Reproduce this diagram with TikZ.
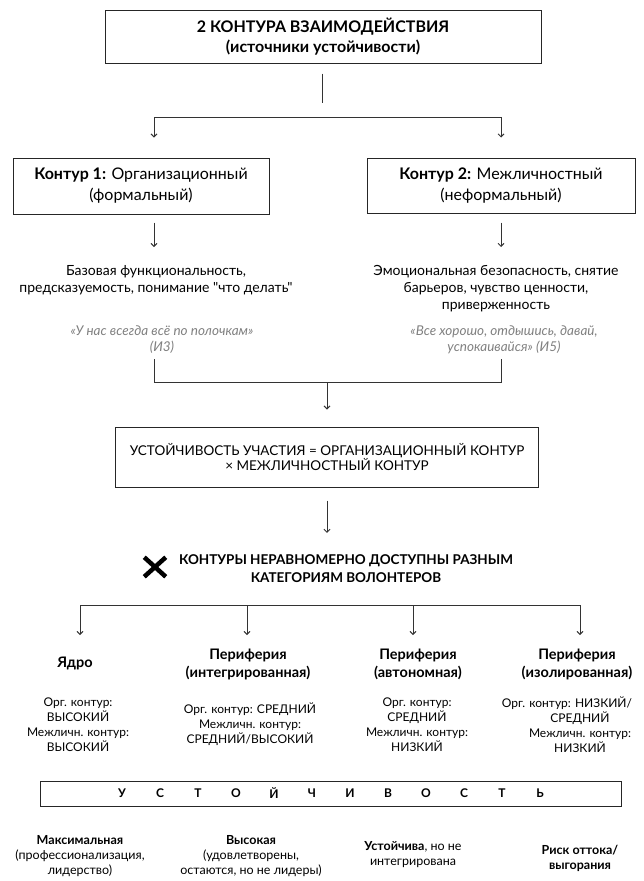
\documentclass[tikz,border=0pt]{standalone}
\usepackage{fontspec}
\setmainfont{Lato}[Ligatures=TeXOff]
\usetikzlibrary{arrows.meta,positioning,shapes.misc}
\tikzset{
  kbox/.style={ % framed block
    draw=black!85, line width=1pt, rectangle,
    align=center, inner sep=0pt, text=black
  },
  link/.style={draw=black!80, line width=0.9pt},
  arr/.style={link, -{Straight Barb[length=3pt,width=6pt]}},
  desc/.style={align=center, inner sep=0pt, font=\fontsize{14}{17}\selectfont},
  citation/.style={ % quotes from interviews
    align=center, inner sep=0pt, text=black!50,
    font=\fontsize{13.5}{16}\selectfont\itshape
  },
  head/.style={align=center, inner sep=0pt, font=\fontsize{14.5}{18}\selectfont\bfseries},
  rating/.style={align=center, inner sep=0pt, font=\fontsize{12}{15}\selectfont},
  result/.style={align=center, inner sep=0pt, font=\fontsize{12.5}{15}\selectfont},
  letter/.style={inner sep=0pt, font=\fontsize{12}{12}\selectfont\bfseries}
}
\begin{document}
\begin{tikzpicture}[x=1pt, y=-1pt]
  \useasboundingbox (0,0) rectangle (643,881);

  % two contours
  \node[kbox, minimum width=436pt, minimum height=53pt,
        font=\fontsize{16}{20}\selectfont\bfseries] (title) at (323,36.5)
        {2 КОНТУРА ВЗАИМОДЕЙСТВИЯ\\(источники устойчивости)};
  \node[kbox, minimum width=256pt, minimum height=56pt,
        font=\fontsize{16}{21}\selectfont] (org) at (141,186)
        {\textbf{Контур 1:} Организационный\\(формальный)};
  \node[kbox, minimum width=268pt, minimum height=55pt,
        font=\fontsize{16}{21}\selectfont] (inter) at (501,185.5)
        {\textbf{Контур 2:} Межличностный\\(неформальный)};

  \coordinate (split) at (322,117);
  \coordinate (L) at (154,117);
  \coordinate (R) at (501,117);
  \draw[link, shorten <=10pt, shorten >=14pt] (title.south -| split) -- (split);
  \draw[link] (L) -- (R);
  \draw[arr, shorten >=20pt] (L) -- (L |- org.north);
  \draw[arr, shorten >=20pt] (R) -- (R |- inter.north);

  \node[desc, anchor=north] (orgtxt) at (156,265)
        {Базовая функциональность,\\предсказуемость, понимание "что делать"};
  \node[desc, anchor=north] (intertxt) at (496,265)
        {Эмоциональная безопасность, снятие\\барьеров, чувство ценности,\\приверженность};
  \draw[arr, shorten <=8pt, shorten >=18pt] (org.south -| L) -- (orgtxt.north -| L);
  \draw[arr, shorten <=9pt, shorten >=18pt] (inter.south -| R) -- (intertxt.north -| R);

  \node[citation] (orgq) at (162,340) {«У нас всегда всё по полочкам»\\(И3)};
  \node[citation] (interq) at (504,340) {«Все хорошо, отдышись, давай,\\успокаивайся» (И5)};

  % merge
  \coordinate (mL) at (154,382);
  \coordinate (mR) at (501,382);
  \coordinate (mC) at (327,382);
  \draw[link, shorten <=5pt, shorten >=5pt] (orgq.south -| mL) -- (mL) -- (mR) -- (interq.south -| mR);

  \node[kbox, minimum width=423pt, minimum height=60pt,
        font=\fontsize{13.5}{15}\selectfont] (formula) at (327,457)
        {УСТОЙЧИВОСТЬ УЧАСТИЯ = ОРГАНИЗАЦИОННЫЙ КОНТУР\\× МЕЖЛИЧНОСТНЫЙ КОНТУР};
  \draw[arr, shorten >=17pt] (mC) -- (mC |- formula.north);

  \node[head, font=\fontsize{13.5}{18}\selectfont\bfseries] (uneven) at (346,569)
        {КОНТУРЫ НЕРАВНОМЕРНО ДОСТУПНЫ РАЗНЫМ\\КАТЕГОРИЯМ ВОЛОНТЕРОВ};
  \node[cross out, draw, line width=4.5pt, minimum width=17pt, minimum height=15pt] (xmark) at (155,567) {};
  \draw[arr, shorten <=13pt, shorten >=22pt] (formula.south) -- (formula.south |- uneven.north);

  % volunteer categories
  \foreach \x [count=\i] in {80,247,413,580} {
    \coordinate (s\i) at (\x,605);
    \coordinate (t\i) at (\x,635);
  }
  \draw[link] (s1) -- (s4);
  \foreach \i in {1,...,4}
    \draw[arr] (s\i) -- (t\i);

  \node[head] (g1) at (75,663) {Ядро};
  \node[head] (g2) at (248,664) {Периферия\\(интегрированная)};
  \node[head] (g3) at (418,664) {Периферия\\(автономная)};
  \node[head] (g4) at (577,664) {Периферия\\(изолированная)};

  \node[rating] (v1) at (78,724.5) {Орг. контур:\\ВЫСОКИЙ\\Межличн. контур:\\ВЫСОКИЙ};
  \node[rating] (v2) at (250,724.5) {Орг. контур: СРЕДНИЙ\\Межличн. контур:\\СРЕДНИЙ/ВЫСОКИЙ};
  \node[rating] (v3) at (417,724.5) {Орг. контур:\\СРЕДНИЙ\\Межличн. контур:\\НИЗКИЙ};
  \node[rating] (v4) at (580,724.5) {Орг. контур: НИЗКИЙ/\hspace*{26pt}\\СРЕДНИЙ\\Межличн. контур:\\НИЗКИЙ};

  % scale
  \node[kbox, minimum width=581pt, minimum height=25pt] (scale) at (330.5,793.5) {};
  \foreach \ch [count=\i from 0] in {У,С,Т,О,Й,Ч,И,В,О,С,Т,Ь}
    \node[letter] (l\i) at ({122+38*\i},793.5) {\ch};

  \node[result] (r1) at (80,856) {\textbf{Максимальная}\\(профессионализация,\\лидерство)};
  \node[result] (r2) at (251,856) {\textbf{Высокая}\\(удовлетворены,\\остаются, но не лидеры)};
  \node[result] (r3) at (413,855) {\textbf{Устойчива}, но не\\интегрирована};
  \node[result] (r4) at (580,858) {\textbf{Риск оттока/}\\\textbf{выгорания}};
\end{tikzpicture}
\end{document}
